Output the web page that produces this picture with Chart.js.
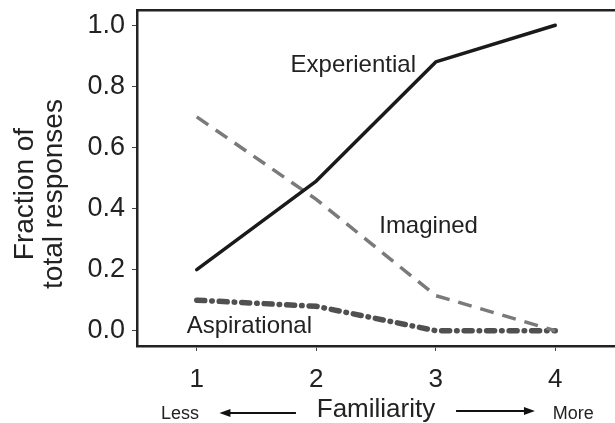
<!DOCTYPE html>
<html lang="en">
<head>
    <meta charset="UTF-8">
    <title>Fraction of total responses by familiarity</title>
    <script src="https://cdn.jsdelivr.net/npm/chart.js@4.4.2/dist/chart.umd.min.js"></script>
    <style>
        html, body { margin: 0; padding: 0; background: #fff; }
        .chart-wrap { position: relative; width: 615px; height: 423px; }
    </style>
</head>
<body>
    <div class="chart-wrap">
        <canvas id="familiarityChart"></canvas>
    </div>

    <script>
        // --- Data ---
        const familiarity = [1, 2, 3, 4];
        const experiential = [0.20, 0.49, 0.88, 1.00];
        const imagined = [0.70, 0.43, 0.115, 0.00];
        const aspirational = [0.10, 0.08, 0.00, 0.00];

        const xTickLabels = ['1', '2', '3', '4'];
        const yTickValues = [0, 0.2, 0.4, 0.6, 0.8, 1.0];
        const yTickLabels = ['0.0', '0.2', '0.4', '0.6', '0.8', '1.0'];
        const yTitleLines = ['Fraction of', 'total responses'];

        const FONT = "'Liberation Sans', Arial, Helvetica, sans-serif";
        const INK = '#222';

        const toPoints = ys => familiarity.map((x, i) => ({ x: x, y: ys[i] }));

        // in-plot series names, placed in data units
        const seriesNotes = [
            { text: 'Experiential', x: 2.31, y: 0.87 },
            { text: 'Imagined', x: 2.94, y: 0.34 },
            { text: 'Aspirational', x: 1.44, y: 0.013 }
        ];

        // names on the lines, the y title, and the Less <-- --> More row under the axis
        const notesPlugin = {
            id: 'notes',
            afterDraw(chart) {
                const { ctx, scales, chartArea } = chart;
                const xs = scales.x, ys = scales.y;
                ctx.save();
                ctx.fillStyle = INK;
                ctx.textAlign = 'center';
                ctx.textBaseline = 'middle';
                ctx.font = '24px ' + FONT;
                seriesNotes.forEach(n => {
                    ctx.fillText(n.text, xs.getPixelForValue(n.x), ys.getPixelForValue(n.y));
                });

                // y title, two rotated lines, sitting a little below the axis middle
                ctx.save();
                ctx.translate(25, (chartArea.top + chartArea.bottom) / 2 + 16);
                ctx.rotate(-Math.PI / 2);
                ctx.font = '28px ' + FONT;
                yTitleLines.forEach((line, i) => ctx.fillText(line, 0, i * 29));
                ctx.restore();

                const rowY = chart.height - 9;
                ctx.font = '18px ' + FONT;
                ctx.fillText('Less', xs.getPixelForValue(0.86), rowY);
                ctx.fillText('More', xs.getPixelForValue(4.15), rowY);

                const arrow = (from, to, y) => {
                    const x0 = xs.getPixelForValue(from), x1 = xs.getPixelForValue(to);
                    const dir = Math.sign(x1 - x0);
                    ctx.strokeStyle = '#111';
                    ctx.lineWidth = 2;
                    ctx.beginPath();
                    ctx.moveTo(x0, y);
                    ctx.lineTo(x1 - dir * 8, y);
                    ctx.stroke();
                    ctx.fillStyle = '#111';
                    ctx.beginPath();
                    ctx.moveTo(x1, y);
                    ctx.lineTo(x1 - dir * 11, y - 4);
                    ctx.lineTo(x1 - dir * 11, y + 4);
                    ctx.closePath();
                    ctx.fill();
                };
                arrow(1.83, 1.19, rowY - 1);
                arrow(3.17, 3.83, rowY - 3);
                ctx.restore();
            }
        };

        const ctx = document.getElementById('familiarityChart').getContext('2d');

        new Chart(ctx, {
            type: 'line',
            data: {
                datasets: [
                    {
                        label: 'Experiential',
                        data: toPoints(experiential),
                        borderColor: '#1a1a1a',
                        borderWidth: 3.5,
                        borderCapStyle: 'round',
                        borderJoinStyle: 'round'
                    },
                    {
                        label: 'Imagined',
                        data: toPoints(imagined),
                        borderColor: '#7a7a7a',
                        borderWidth: 3.5,
                        borderDash: [14, 9],
                        borderCapStyle: 'butt'
                    },
                    {
                        label: 'Aspirational',
                        data: toPoints(aspirational),
                        borderColor: '#505050',
                        borderWidth: 5.5,
                        borderDash: [8, 7, 0.5, 7],
                        borderCapStyle: 'round'
                    }
                ]
            },
            options: {
                responsive: true,
                maintainAspectRatio: false,
                devicePixelRatio: 1,
                animation: false,
                layout: { padding: { top: 10, right: 0, left: 0, bottom: 0 } },
                elements: { point: { radius: 0 }, line: { tension: 0 } },
                plugins: {
                    legend: { display: false },
                    tooltip: { enabled: false }
                },
                scales: {
                    x: {
                        type: 'linear',
                        position: 'bottom',
                        min: 0.5,
                        max: 4.5,
                        afterBuildTicks: s => { s.ticks = familiarity.map(v => ({ value: v })); },
                        afterFit: s => { s.height = 77; },
                        ticks: {
                            color: INK,
                            font: { family: FONT, size: 26 },
                            padding: 13,
                            maxRotation: 0,
                            callback: (v, i) => xTickLabels[i]
                        },
                        grid: { drawOnChartArea: false, drawTicks: true, tickLength: 5, tickColor: '#444', lineWidth: 1 },
                        border: { display: true, color: INK, width: 2.5 },
                        title: {
                            display: true,
                            text: 'Familiarity',
                            color: INK,
                            font: { family: FONT, size: 26 },
                            padding: { top: 0, bottom: -2 }
                        }
                    },
                    xTop: {
                        type: 'linear',
                        position: 'top',
                        min: 0.5,
                        max: 4.5,
                        afterFit: s => { s.height = 0; },
                        ticks: { display: false },
                        grid: { display: false, drawTicks: false },
                        border: { display: true, color: INK, width: 2.5 }
                    },
                    y: {
                        min: -0.05,
                        max: 1.05,
                        afterBuildTicks: s => { s.ticks = yTickValues.map(v => ({ value: v })); },
                        afterFit: s => { s.width = 137; },
                        ticks: {
                            color: INK,
                            font: { family: FONT, size: 27, lineHeight: 0.2 },
                            padding: 7,
                            callback: (v, i) => yTickLabels[i]
                        },
                        grid: { drawOnChartArea: false, drawTicks: true, tickLength: 5, tickColor: '#444', lineWidth: 1 },
                        border: { display: true, color: INK, width: 2.5 }
                    }
                }
            },
            plugins: [notesPlugin]
        });
    </script>
</body>
</html>
